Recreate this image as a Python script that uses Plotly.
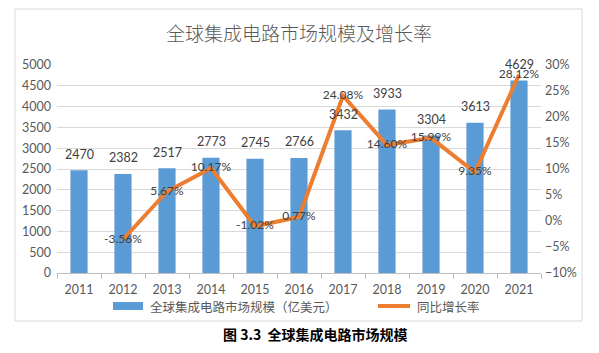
import plotly.graph_objects as go

years = ["2011", "2012", "2013", "2014", "2015", "2016", "2017", "2018", "2019", "2020", "2021"]
market = [2470, 2382, 2517, 2773, 2745, 2766, 3432, 3933, 3304, 3613, 4629]
growth_years = ["2012", "2013", "2014", "2015", "2016", "2017", "2018", "2019", "2020", "2021"]
growth = [-3.56, 5.67, 10.17, -1.02, 0.77, 24.08, 14.60, 15.99, 9.35, 28.12]
bar_name = "全球集成电路市场规模（亿美元）"
line_name = "同比增长率"

W, H = 599, 353
def py(p):
    return (H - p) / H
def px(p):
    return p / W

LAT = "Lato, 'Noto Sans CJK SC', sans-serif"
CJK = "'Noto Sans CJK SC', sans-serif"
GRAY = "#595959"
BLUE = "#5B9BD5"
ORANGE = "#ED7D31"

fig = go.Figure()
fig.add_trace(go.Bar(
    x=years, y=market, name=bar_name,
    marker=dict(color=BLUE, line=dict(width=0)), width=0.39,
    yaxis="y"))
fig.add_trace(go.Scatter(
    x=growth_years, y=growth, name=line_name, mode="lines+text",
    line=dict(color=ORANGE, width=4),
    text=[f"{g:.2f}%" for g in growth], textposition="middle center",
    textfont=dict(family=LAT, size=12, color="#404040"),
    yaxis="y2", cliponaxis=False))

for i, v in enumerate(market):
    fig.add_annotation(x=i, y=v, xref="x", yref="y", text=str(v), showarrow=False,
                       yshift=16, font=dict(family=LAT, size=12.5, color="#404040"))

fig.update_layout(
    width=W, height=H, margin=dict(l=0, r=0, t=0, b=0, autoexpand=False),
    paper_bgcolor="white", plot_bgcolor="white",
    showlegend=False,
    xaxis=dict(domain=[px(57), px(541)], type="category", range=[-0.5, len(years) - 0.5],
               showline=True, linecolor="#bfbfbf", ticks="outside", tickson="boundaries",
               ticklen=5, tickcolor="#bfbfbf", showgrid=False, tickangle=0,
               automargin=False, ticklabelstandoff=5,
               tickfont=dict(family=LAT, size=12.5, color=GRAY)),
    yaxis=dict(domain=[py(273), py(65)], range=[0, 5000], dtick=500,
               showgrid=True, gridcolor="#d9d9d9", gridwidth=1, zeroline=False,
               automargin=False, ticklabelstandoff=5,
               tickfont=dict(family=LAT, size=12.5, color=GRAY), ticks=""),
    yaxis2=dict(overlaying="y", side="right", range=[-10, 30], dtick=5,
                showgrid=False, zeroline=False, ticksuffix="%", anchor="x",
                automargin=False, ticklabelstandoff=3,
                tickfont=dict(family=LAT, size=12.5, color=GRAY)),
)

# border of chart area
fig.add_shape(type="rect", xref="paper", yref="paper",
              x0=px(15), x1=px(582), y0=py(321), y1=py(9),
              line=dict(color="#d9d9d9", width=1), layer="below")

# legend drawn manually
fig.add_shape(type="rect", xref="paper", yref="paper",
              x0=px(113), x1=px(143), y0=py(310), y1=py(302),
              fillcolor=BLUE, line=dict(width=0))
fig.add_annotation(xref="paper", yref="paper", x=px(148), y=py(306), xanchor="left", yanchor="middle",
                   text=bar_name, showarrow=False,
                   font=dict(family=CJK, size=12.5, color=GRAY))
fig.add_shape(type="line", xref="paper", yref="paper",
              x0=px(378), x1=px(410), y0=py(306), y1=py(306),
              line=dict(color=ORANGE, width=4))
fig.add_annotation(xref="paper", yref="paper", x=px(415), y=py(306), xanchor="left", yanchor="middle",
                   text=line_name, showarrow=False,
                   font=dict(family=CJK, size=12.5, color=GRAY))

fig.add_annotation(xref="paper", yref="paper", x=px(299), y=py(33), xanchor="center", yanchor="middle",
                   text="全球集成电路市场规模及增长率",
                   showarrow=False, font=dict(family=CJK, size=19, color=GRAY, weight=300))
fig.add_annotation(xref="paper", yref="paper", x=px(315), y=py(334), xanchor="center", yanchor="middle",
                   text="图 3.3  全球集成电路市场规模",
                   showarrow=False, font=dict(family=CJK, size=14, color="black", weight="bold"))

fig.write_html("out.html")
